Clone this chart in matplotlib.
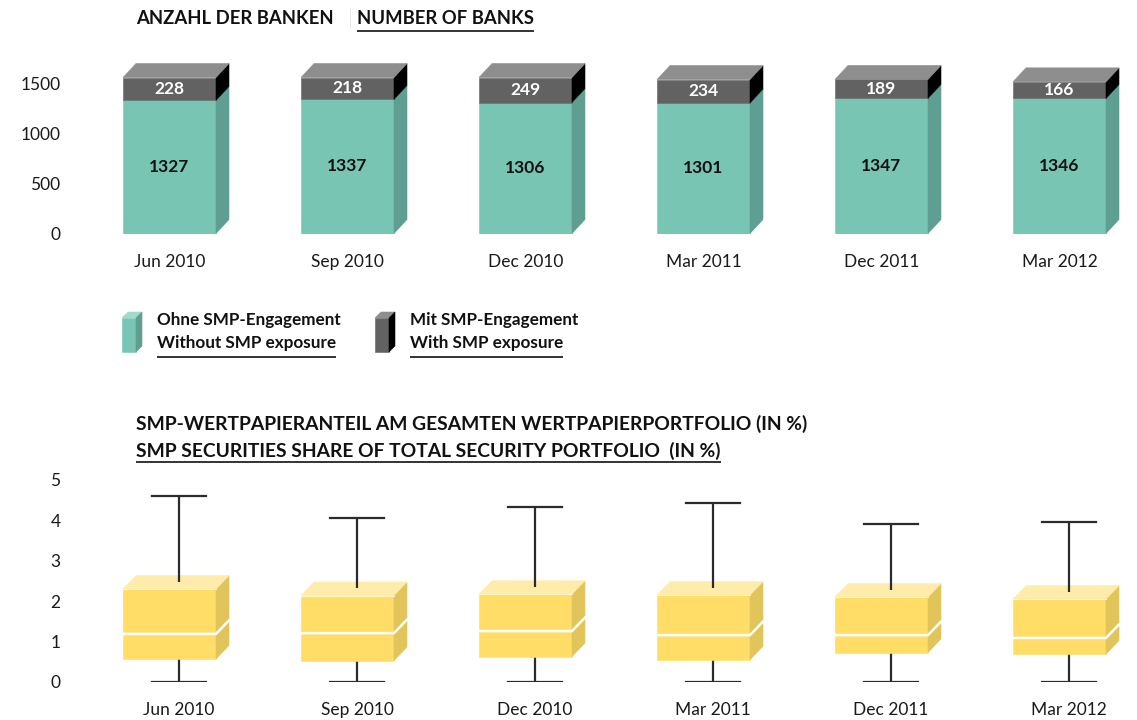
import matplotlib
matplotlib.use('Agg')
import matplotlib.pyplot as plt
from matplotlib.patches import Polygon
import numpy as np

plt.rcParams['font.family'] = ['Lato', 'DejaVu Sans']

# ---------------- data ----------------
categories = ['Jun 2010', 'Sep 2010', 'Dec 2010', 'Mar 2011', 'Dec 2011', 'Mar 2012']
without_smp = [1327, 1337, 1306, 1301, 1347, 1346]
with_smp = [228, 218, 249, 234, 189, 166]
bank_ticks = [0, 500, 1000, 1500]

share_max = [4.61, 4.07, 4.33, 4.44, 3.92, 3.97]
share_q3 = [2.30, 2.14, 2.17, 2.15, 2.10, 2.05]
share_median = [1.19, 1.21, 1.26, 1.16, 1.16, 1.09]
share_q1 = [0.57, 0.53, 0.63, 0.55, 0.73, 0.69]
share_min = [0.0, 0.0, 0.0, 0.0, 0.0, 0.0]
share_ticks = [0, 1, 2, 3, 4, 5]

title1_de = 'ANZAHL DER BANKEN'
title1_en = 'NUMBER OF BANKS'
title2_de = 'SMP-WERTPAPIERANTEIL AM GESAMTEN WERTPAPIERPORTFOLIO (IN %)'
title2_en = 'SMP SECURITIES SHARE OF TOTAL SECURITY PORTFOLIO  (IN %)'
legend_labels = [('Ohne SMP-Engagement', 'Without SMP exposure'),
                 ('Mit SMP-Engagement', 'With SMP exposure')]

# ---------------- styling ----------------
TEAL_F, TEAL_S, TEAL_T = '#79C5B4', '#5E9F92', '#A3D9CC'
DARK_F, DARK_S, DARK_T = '#626262', '#000000', '#8E8E8E'
YEL_F, YEL_S, YEL_T = '#FFDD66', '#E1C45A', '#FFEBAA'
TXT = '#1a1a1a'

W, H = 1137, 720
fig = plt.figure(figsize=(W / 100, H / 100), dpi=100)


def ax_rect(l, t, r, b):
    return [l / W, 1 - b / H, (r - l) / W, (b - t) / H]


X0, XS = 169.5, 178.0
L, R = 80, 1135
xlim = ((L - X0) / XS, (R - X0) / XS)
BW = 93 / XS
DX = 13 / XS

# overlay axes in pixel coordinates
ov = fig.add_axes([0, 0, 1, 1])
ov.set_xlim(0, W)
ov.set_ylim(H, 0)
ov.axis('off')
ov.patch.set_visible(False)


def poly(ax, pts, color, z=2):
    ax.add_patch(Polygon(pts, closed=True, fc=color, ec=color, lw=0.4, zorder=z))


def box3d(ax, xc, y0, y1, w, dx, dy, front, side, top=None, z=2):
    xl, xr = xc - w / 2, xc + w / 2
    poly(ax, [(xl, y0), (xr, y0), (xr, y1), (xl, y1)], front, z)
    poly(ax, [(xr, y0), (xr + dx, y0 + dy), (xr + dx, y1 + dy), (xr, y1)], side, z)
    if top:
        poly(ax, [(xl, y1), (xr, y1), (xr + dx, y1 + dy), (xl + dx, y1 + dy)], top, z)


def style_axes(ax, yt, labelx, xpad):
    for s in ax.spines.values():
        s.set_visible(False)
    ax.set_yticks(yt)
    ax.set_xticks(labelx)
    ax.set_xticklabels(categories)
    ax.tick_params(axis='y', length=0, pad=14, labelsize=12.5, labelcolor=TXT)
    ax.tick_params(axis='x', length=0, pad=xpad, labelsize=12.5, labelcolor=TXT)
    ax.patch.set_visible(False)


# ---------------- top chart ----------------
ppu1 = 0.1003
top_ylim = 1750
ax1 = fig.add_axes(ax_rect(L, 233.5 - top_ylim * ppu1, R, 233.5))
ax1.set_xlim(*xlim)
ax1.set_ylim(0, top_ylim)
DY1 = 14 / ppu1
idx = np.arange(len(categories))
for i in idx:
    a, b = without_smp[i], with_smp[i]
    box3d(ax1, i, 0, a, BW, DX, DY1, TEAL_F, TEAL_S)
    box3d(ax1, i, a, a + b, BW, DX, DY1, DARK_F, DARK_S, DARK_T)
    ax1.text(i, a / 2, str(a), ha='center', va='center', fontsize=12.5,
             fontweight='bold', color='#111111', zorder=5)
    ax1.text(i, a + b / 2, str(b), ha='center', va='center', fontsize=12.5,
             fontweight='bold', color='white', zorder=5)
style_axes(ax1, bank_ticks, idx, 15)

# ---------------- bottom chart ----------------
ppu2 = 40.4
bot_ylim = 5.3
ax2 = fig.add_axes(ax_rect(L, 682 - bot_ylim * ppu2, R, 682))
ax2.set_xlim(*xlim)
ax2.set_ylim(0, bot_ylim)
DY2 = 13.5 / ppu2
WOFF = 9.5 / XS
CAP = 54 / XS
LC = '#2b2b2b'
for i in idx:
    xw = i + WOFF
    # lower whisker (behind box)
    ax2.plot([xw, xw], [share_min[i], share_q1[i]], color=LC, lw=1.6, zorder=1,
             solid_capstyle='butt')
    ax2.plot([xw - CAP / 2, xw + CAP / 2], [share_min[i]] * 2, color=LC, lw=1.6, zorder=1)
    box3d(ax2, i, share_q1[i], share_q3[i], BW, DX, DY2, YEL_F, YEL_S, YEL_T)
    xl, xr = i - BW / 2, i + BW / 2
    # light edge between top face and front
    ax2.plot([xl, xr], [share_q3[i]] * 2, color='#FFF3C8', lw=0.8, zorder=3)
    # median
    m = share_median[i]
    ax2.plot([xl, xr, xr + DX], [m, m, m + DY2], color='white', lw=1.8, zorder=3,
             solid_joinstyle='miter')
    # upper whisker
    ax2.plot([xw, xw], [share_q3[i] + 7.5 / ppu2, share_max[i]], color=LC, lw=1.6,
             zorder=4, solid_capstyle='butt')
    ax2.plot([xw - CAP / 2, xw + CAP / 2], [share_max[i]] * 2, color=LC, lw=1.6, zorder=4)
style_axes(ax2, share_ticks, idx + WOFF, 14.5)

# ---------------- titles / legend (pixel overlay) ----------------
renderer = fig.canvas.get_renderer()


def fit(t, target):
    bb = t.get_window_extent(renderer)
    t.set_fontsize(t.get_fontsize() * target / bb.width)
    return t


def underline(t, y, lw=1.2):
    bb = t.get_window_extent(renderer)
    ov.plot([bb.x0, bb.x1], [y, y], color='#111111', lw=lw, solid_capstyle='butt')


t = ov.text(136, 19, title1_de, ha='left', va='center', fontsize=12,
            fontweight='bold', color='#111111')
fit(t, 197)
fs_t = t.get_fontsize()
ov.text(350, 19, '|', ha='center', va='center', fontsize=fs_t + 2, color='#9a9a9a',
        fontweight='light')
t2 = ov.text(357, 19, title1_en, ha='left', va='center', fontsize=fs_t,
             fontweight='bold', color='#111111')
underline(t2, 31)

t3 = ov.text(136, 424, title2_de, ha='left', va='center', fontsize=12,
             fontweight='bold', color='#111111')
fit(t3, 672)
t4 = ov.text(136, 451, title2_en, ha='left', va='center', fontsize=t3.get_fontsize(),
             fontweight='bold', color='#111111')
underline(t4, 461.5)

# legend
lt = ov.text(157, 320, legend_labels[0][0], ha='left', va='center', fontsize=11,
             fontweight='bold', color='#111111')
fit(lt, 183)
fs_l = lt.get_fontsize()
icon_cols = [(TEAL_F, TEAL_S, TEAL_T), (DARK_F, DARK_S, DARK_T)]
for k, (xi, xt) in enumerate([(122, 157), (375, 410)]):
    f, s, tp = icon_cols[k]
    poly(ov, [(xi, 318), (xi + 14, 318), (xi + 14, 352), (xi, 352)], f)
    poly(ov, [(xi, 318), (xi + 14, 318), (xi + 20, 312), (xi + 6, 312)], tp)
    poly(ov, [(xi + 14, 318), (xi + 20, 312), (xi + 20, 346), (xi + 14, 352)], s)
    if k > 0:
        ov.text(xt, 320, legend_labels[k][0], ha='left', va='center', fontsize=fs_l,
                fontweight='bold', color='#111111')
    tl = ov.text(xt, 343, legend_labels[k][1], ha='left', va='center', fontsize=fs_l,
                 fontweight='bold', color='#111111')
    underline(tl, 356.5)

fig.savefig('out.png', dpi=100)
